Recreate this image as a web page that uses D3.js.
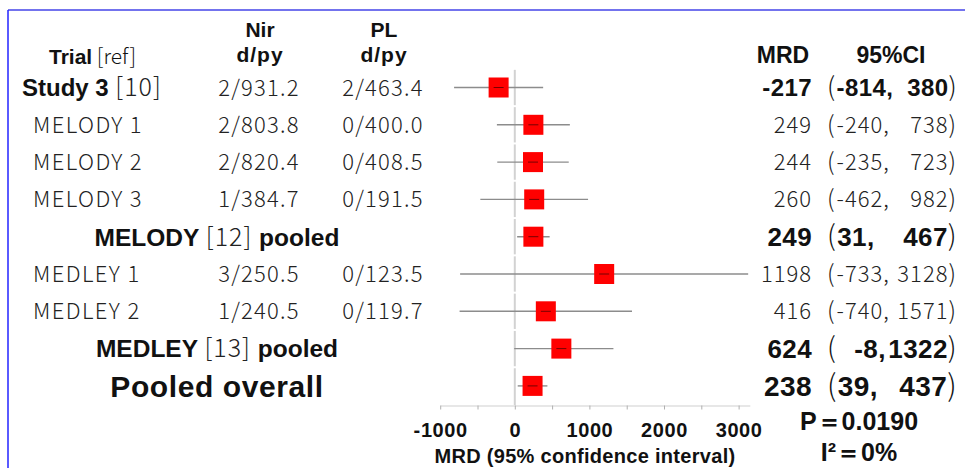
<!DOCTYPE html>
<html>
<head>
<meta charset="utf-8">
<script src="https://cdn.jsdelivr.net/npm/d3@7"></script>
<style>
  body { margin: 0; background: #fff; }
  text { white-space: pre; }
</style>
</head>
<body>
<div id="chart"></div>
<script>
"use strict";

// rows, top to bottom
const trials = ["Study 3", "MELODY 1", "MELODY 2", "MELODY 3", "MELODY", "MEDLEY 1", "MEDLEY 2", "MEDLEY", "Pooled overall"];
const refs = ["[10]", "", "", "", "[12]", "", "", "[13]", ""];
const rowKinds = ["lead", "study", "study", "study", "pooled", "study", "study", "pooled", "overall"];
const nirDpy = ["2/931.2", "2/803.8", "2/820.4", "1/384.7", "", "3/250.5", "1/240.5", "", ""];
const plDpy = ["2/463.4", "0/400.0", "0/408.5", "0/191.5", "", "0/123.5", "0/119.7", "", ""];
const mrd = [-217, 249, 244, 260, 249, 1198, 416, 624, 238];
const ciLow = [-814, -240, -235, -462, 31, -733, -740, -8, 39];
const ciHigh = [380, 738, 723, 982, 467, 3128, 1571, 1322, 437];
const axisTicks = [-1000, -500, 0, 500, 1000, 1500, 2000, 2500, 3000];

const W = 965, H = 468;
const BOLD = "'Liberation Sans', Arial, sans-serif";
const THIN = "'Noto Sans CJK JP', 'Noto Sans', sans-serif";

const rows = trials.map(function (t, i) {
  return { i: i, name: t, ref: refs[i], kind: rowKinds[i], nir: nirDpy[i], pl: plDpy[i],
           mrd: mrd[i], lo: ciLow[i], hi: ciHigh[i] };
});

const svg = d3.select("#chart").append("svg")
  .attr("width", W).attr("height", H)
  .style("display", "block");

// frame lines (blue)
svg.append("line").attr("x1", 8).attr("x2", W).attr("y1", 10).attr("y2", 10)
  .attr("stroke", "#7373ee").attr("stroke-width", 2);
svg.append("line").attr("x1", 8).attr("x2", 8).attr("y1", 10).attr("y2", H)
  .attr("stroke", "#2323ff").attr("stroke-width", 1.5);

// scales
const x = d3.scaleLinear().domain([-1000, 3150]).range([440.2, 749.8]);
const y = d3.scalePoint().domain(d3.range(rows.length)).range([87.5, 385.9]);
const step = y.step();

// zero line, broken between rows
svg.append("g").selectAll("line").data(rows).enter().append("line")
  .attr("x1", x(0)).attr("x2", x(0))
  .attr("y1", function (d) { return y(d.i) - step / 2 + 1; })
  .attr("y2", function (d) { return d.i === rows.length - 1 ? 405 : y(d.i) + step / 2 - 1; })
  .attr("stroke", "#d2d2d2").attr("stroke-width", 2);

// x axis
const axisY = 405.5;
const axis = svg.append("g")
  .attr("transform", "translate(0," + axisY + ")")
  .call(d3.axisBottom(x).tickValues(axisTicks).tickSize(4).tickSizeOuter(0)
    .tickFormat(function (v) { return v % 1000 === 0 ? String(v) : ""; }));
axis.select(".domain").attr("stroke", "#d0d0d0").attr("stroke-width", 1.2);
axis.selectAll(".tick line").attr("stroke", "#b0b0b0");
axis.selectAll(".tick text")
  .attr("y", 31).attr("dy", 0)
  .attr("font-family", BOLD).attr("font-weight", "bold").attr("font-size", 20)
  .attr("letter-spacing", 0.6).attr("fill", "#111");

svg.append("text").attr("x", 585).attr("y", 463).attr("text-anchor", "middle")
  .attr("font-family", BOLD).attr("font-weight", "bold").attr("font-size", 20)
  .attr("letter-spacing", 0.3).attr("fill", "#111")
  .text("MRD (95% confidence interval)");

// CI whiskers
svg.append("g").selectAll("line").data(rows).enter().append("line")
  .attr("x1", function (d) { return x(d.lo); })
  .attr("x2", function (d) { return x(d.hi); })
  .attr("y1", function (d) { return y(d.i); })
  .attr("y2", function (d) { return y(d.i); })
  .attr("stroke", "#8c8c8c").attr("stroke-width", 1.4);

// point estimates
const sq = 20;
svg.append("g").selectAll("rect").data(rows).enter().append("rect")
  .attr("x", function (d) { return x(d.mrd) - sq / 2; })
  .attr("y", function (d) { return y(d.i) - sq / 2; })
  .attr("width", sq).attr("height", sq)
  .attr("fill", "#ff0000");
svg.append("g").selectAll("line").data(rows).enter().append("line")
  .attr("x1", function (d) { return x(d.mrd) - 5; })
  .attr("x2", function (d) { return x(d.mrd) + 5; })
  .attr("y1", function (d) { return y(d.i); })
  .attr("y2", function (d) { return y(d.i); })
  .attr("stroke", "#700").attr("stroke-width", 1);

// header
const hdr = svg.append("g").attr("fill", "#111");
const trialHead = hdr.append("text").attr("x", 49).attr("y", 64)
  .attr("font-family", BOLD).attr("font-weight", "bold").attr("font-size", 21);
trialHead.append("tspan").text("Trial");
trialHead.append("tspan").attr("font-family", THIN).attr("font-weight", 300).text(" [ref]");
[["Nir", 260], ["PL", 384]].forEach(function (h) {
  hdr.append("text").attr("x", h[1]).attr("y", 37).attr("text-anchor", "middle")
    .attr("font-family", BOLD).attr("font-weight", "bold").attr("font-size", 21).text(h[0]);
  hdr.append("text").attr("x", h[1]).attr("y", 62).attr("text-anchor", "middle")
    .attr("font-family", BOLD).attr("font-weight", "bold").attr("font-size", 21)
    .attr("letter-spacing", 1).text("d/py");
});
hdr.append("text").attr("x", 783).attr("y", 63).attr("text-anchor", "middle")
  .attr("font-family", BOLD).attr("font-weight", "bold").attr("font-size", 23).text("MRD");
hdr.append("text").attr("x", 891).attr("y", 63).attr("text-anchor", "middle")
  .attr("font-family", BOLD).attr("font-weight", "bold").attr("font-size", 23).text("95%CI");

// row labels
const nameSize = { lead: 24, study: 22, pooled: 24.5, overall: 30 };
const labels = svg.append("g");
rows.forEach(function (d) {
  const cy = y(d.i);
  const fs = nameSize[d.kind];
  let t;
  if (d.kind === "study") {
    t = labels.append("text").attr("x", 33).attr("font-family", THIN).attr("font-weight", 300)
      .attr("letter-spacing", 1.4).attr("fill", "#222").text(d.name);
  } else if (d.kind === "lead") {
    t = labels.append("text").attr("x", 22).attr("font-family", BOLD).attr("font-weight", "bold").attr("fill", "#111");
    t.append("tspan").text(d.name + " ");
    t.append("tspan").attr("font-family", THIN).attr("font-weight", 300).attr("font-size", 25)
      .attr("letter-spacing", 1).attr("fill", "#222").text(d.ref);
  } else if (d.kind === "pooled") {
    t = labels.append("text").attr("x", 217).attr("text-anchor", "middle")
      .attr("font-family", BOLD).attr("font-weight", "bold").attr("fill", "#111");
    t.append("tspan").text(d.name + " ");
    t.append("tspan").attr("font-family", THIN).attr("font-weight", 300).attr("font-size", 25)
      .attr("letter-spacing", 1).attr("fill", "#222").text(d.ref);
    t.append("tspan").text(" pooled");
  } else {
    t = labels.append("text").attr("x", 217).attr("text-anchor", "middle")
      .attr("font-family", BOLD).attr("font-weight", "bold").attr("letter-spacing", 0.6)
      .attr("fill", "#111").text(d.name);
  }
  t.attr("y", cy + fs * 0.36).attr("font-size", fs);

  // d/py columns
  [[d.nir, 259], [d.pl, 383]].forEach(function (c) {
    if (!c[0]) return;
    labels.append("text").attr("x", c[1]).attr("y", cy + 8).attr("text-anchor", "middle")
      .attr("font-family", THIN).attr("font-weight", 300).attr("font-size", 22)
      .attr("letter-spacing", 1.2).attr("fill", "#222").text(c[0]);
  });

  // MRD and CI
  const bold = d.kind !== "study";
  const vs = d.kind === "overall" ? 28 : (d.kind === "pooled" ? 26 : (bold ? 24 : 22));
  const g = labels.append("g")
    .attr("font-family", bold ? BOLD : THIN)
    .attr("font-weight", bold ? "bold" : 300)
    .attr("font-size", vs).attr("fill", bold ? "#111" : "#222")
    .attr("letter-spacing", bold ? 0.4 : 1);
  const by = cy + vs * 0.36;
  g.append("text").attr("x", 812).attr("y", by).attr("text-anchor", "end").text(String(d.mrd));
  const left = g.append("text").attr("x", 827).attr("y", by);
  left.append("tspan").attr("font-family", THIN).attr("font-weight", 300).attr("font-size", vs + 2).text("(");
  left.append("tspan").attr("dx", Math.abs(d.lo) < 10 ? 18 : 1).text(d.lo + ",");
  const right = g.append("text").attr("x", 957).attr("y", by).attr("text-anchor", "end");
  right.append("tspan").text(String(d.hi));
  right.append("tspan").attr("font-family", THIN).attr("font-weight", 300).attr("font-size", vs + 2).text(")");
});

// test statistics
svg.append("text").attr("x", 859).attr("y", 430).attr("text-anchor", "middle")
  .attr("font-family", BOLD).attr("font-weight", "bold").attr("font-size", 25).attr("fill", "#111")
  .text("P＝0.0190");
svg.append("text").attr("x", 859).attr("y", 461).attr("text-anchor", "middle")
  .attr("font-family", BOLD).attr("font-weight", "bold").attr("font-size", 25).attr("fill", "#111")
  .text("I²＝0%");
</script>
</body>
</html>
